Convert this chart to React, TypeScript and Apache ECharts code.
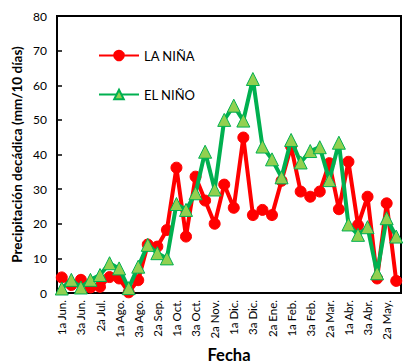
import React, { useEffect, useRef } from "react";
import * as echarts from "echarts";

const categories = [
  "1a Jun.", "2a Jun.", "3a Jun.", "1a Jul.", "2a Jul.", "3a Jul.",
  "1a Ago.", "2a Ago.", "3a Ago.", "1a Sep.", "2a Sep.", "3a Sep.",
  "1a Oct.", "2a Oct.", "3a Oct.", "1a Nov.", "2a Nov.", "3a Nov.",
  "1a Dic.", "2a Dic.", "3a Dic.", "1a Ene.", "2a Ene.", "3a Ene.",
  "1a Feb.", "2a Feb.", "3a Feb.", "1a Mar.", "2a Mar.", "3a Mar.",
  "1a Abr.", "2a Abr.", "3a Abr.", "1a May.", "2a May.", "3a May.",
];

const laNina = [
  4.5, 2.3, 3.8, 1.6, 1.8, 4.6, 4.2, 0.2, 3.7, 14, 13.4, 18.2,
  36.2, 16.3, 33.6, 26.7, 20, 31.3, 24.6, 44.9, 22.5, 24, 22.5, 32.4,
  42.3, 29.3, 27.8, 29.3, 37.5, 24.2, 37.9, 19.6, 27.8, 4.2, 25.9, 3.5,
];

const elNino = [
  1.3, 3.8, 1.6, 3.8, 5.2, 8.6, 7.1, 1.4, 7.6, 13.9, 11.5, 10,
  25.7, 24, 28.8, 40.8, 29.9, 50, 54.1, 49.8, 61.8, 42.3, 38.6, 33.4,
  44.2, 37.7, 41, 42.1, 32.6, 43.4, 19.8, 16.8, 19, 5.7, 21.6, 16.3,
];

const FONT = "Lato";

export default function App() {
  const ref = useRef<HTMLDivElement>(null);
  useEffect(() => {
    if (!ref.current) return;
    const chart = echarts.init(ref.current, null, { renderer: "svg" });
    chart.setOption({
      animation: false,
      backgroundColor: "#ffffff",
      textStyle: { fontFamily: FONT },
      grid: {
        left: 57,
        right: 4,
        top: 16,
        bottom: 70,
        containLabel: false,
        outerBoundsMode: "none",
        show: true,
        borderColor: "#000",
        borderWidth: 2,
        backgroundColor: "transparent",
      },
      legend: {
        orient: "vertical",
        left: 93,
        top: 44,
        itemWidth: 40,
        itemHeight: 12,
        itemGap: 26,
        textStyle: { fontFamily: FONT, fontSize: 13, color: "#000" },
        data: ["LA NIÑA", "EL NIÑO"],
      },
      xAxis: {
        type: "category",
        data: categories,
        boundaryGap: true,
        name: "Fecha",
        nameLocation: "middle",
        nameGap: 53,
        nameMoveOverlap: false,
        nameTextStyle: { fontFamily: FONT, fontSize: 16.5, fontWeight: "bold", color: "#000", lineHeight: 17 },
        axisLine: { lineStyle: { color: "#000", width: 2 } },
        axisTick: { inside: true, length: 5, interval: 0, lineStyle: { color: "#000", width: 1.5 } },
        axisLabel: {
          rotate: 90,
          interval: 1,
          margin: 7,
          fontFamily: FONT,
          fontSize: 11.5,
          color: "#000",
        },
        splitLine: { show: false },
      },
      yAxis: {
        type: "value",
        min: 0,
        max: 80,
        interval: 10,
        name: "Precipitación decádica (mm/10 días)",
        nameLocation: "middle",
        nameGap: 33,
        nameMoveOverlap: false,
        nameTextStyle: { fontFamily: FONT, fontSize: 13.5, fontWeight: "bold", color: "#000" },
        axisLine: { show: true, lineStyle: { color: "#000", width: 2 } },
        axisTick: { show: true, inside: true, length: 5, lineStyle: { color: "#000", width: 1.5 } },
        axisLabel: { margin: 10, fontFamily: FONT, fontSize: 12, color: "#000" },
        splitLine: { show: false },
      },
      series: [
        {
          name: "LA NIÑA",
          type: "line",
          data: laNina,
          symbol: "circle",
          symbolSize: 11,
          showAllSymbol: true,
          lineStyle: { color: "#FF0000", width: 4 },
          itemStyle: { color: "#FF0000", borderColor: "#FF0000", borderWidth: 1 },
          z: 2,
        },
        {
          name: "EL NIÑO",
          type: "line",
          data: elNino,
          symbol: "triangle",
          symbolSize: 13,
          showAllSymbol: true,
          lineStyle: { color: "#00B050", width: 4 },
          itemStyle: { color: "#92D050", borderColor: "#00B050", borderWidth: 1 },
          z: 3,
        },
      ],
    });
    return () => chart.dispose();
  }, []);
  return <div ref={ref} style={{ width: 405, height: 363, position: "absolute", left: 0, top: 0 }} />;
}
